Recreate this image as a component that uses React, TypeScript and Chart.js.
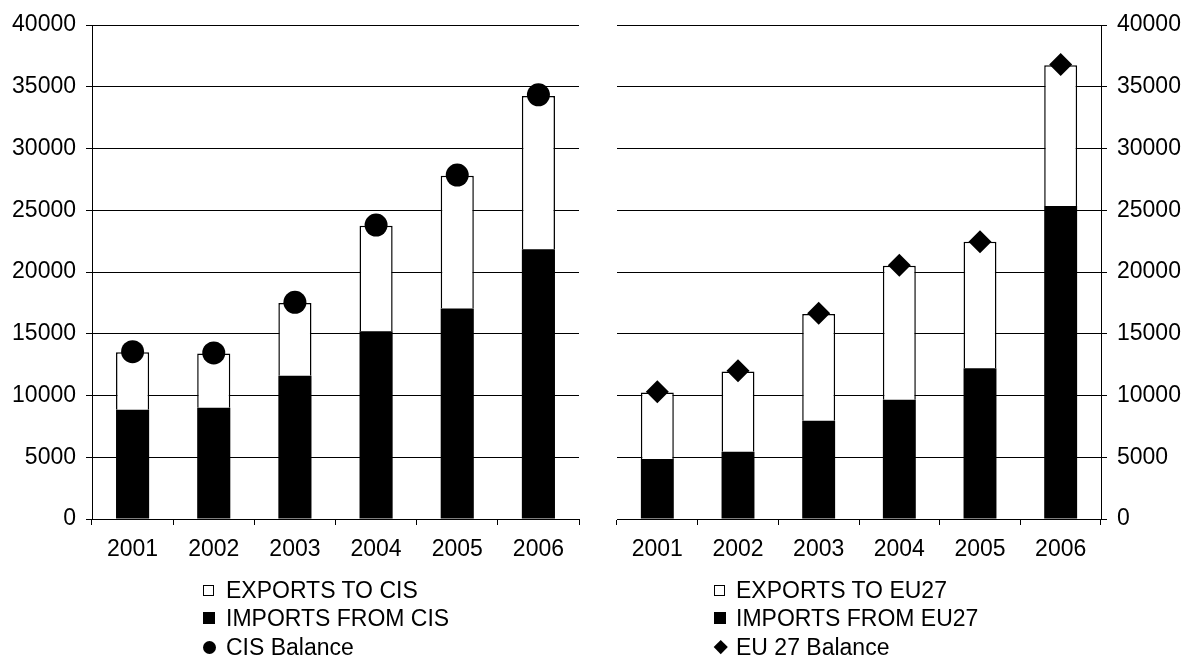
import React, { useEffect, useRef } from "react";
import { Chart, registerables } from "chart.js";

Chart.register(...registerables);

// ---- Data ----
const YEARS = ["2001", "2002", "2003", "2004", "2005", "2006"];

const CIS_IMPORTS = [8850, 9000, 11600, 15200, 17050, 21850];
const CIS_EXPORTS = [4650, 4400, 5900, 8550, 10750, 12400];
const CIS_BALANCE = [13550, 13450, 17550, 23800, 27850, 34350];

const EU_IMPORTS = [4850, 5450, 7950, 9650, 12200, 25350];
const EU_EXPORTS = [5400, 6500, 8650, 10850, 10250, 11400];
const EU_BALANCE = [10300, 12000, 16650, 20550, 22450, 36800];

const Y_MIN = 0;
const Y_MAX = 40000;
const Y_STEP = 5000;

const CIS_LABELS = ["EXPORTS TO CIS", "IMPORTS FROM CIS", "CIS Balance"];
const EU_LABELS = ["EXPORTS TO EU27", "IMPORTS FROM EU27", "EU 27 Balance"];

const FONT_FAMILY = "'Liberation Sans', Arial, Helvetica, sans-serif";
const CANVAS_W = 592;
const CANVAS_H = 661;

type Side = "left" | "right";

interface PanelProps {
  side: Side;
  imports: number[];
  exports: number[];
  balance: number[];
  labels: string[];
  marker: "circle" | "rectRot";
}

function Panel({ side, imports, exports, balance, labels, marker }: PanelProps) {
  const ref = useRef<HTMLCanvasElement | null>(null);

  useEffect(() => {
    if (!ref.current) return;
    const font = { size: 23, family: FONT_FAMILY };
    const chart = new Chart(ref.current, {
      type: "bar",
      data: {
        labels: YEARS,
        datasets: [
          {
            type: "bar",
            label: labels[1],
            data: imports,
            backgroundColor: "#000000",
            borderWidth: 0,
            barPercentage: 0.51,
            categoryPercentage: 0.8,
            stack: "trade",
            order: 2,
          },
          {
            type: "bar",
            label: labels[0],
            data: exports,
            backgroundColor: "#ffffff",
            borderColor: "#000000",
            borderWidth: 1.5,
            borderSkipped: "bottom",
            barPercentage: 0.51,
            categoryPercentage: 0.8,
            stack: "trade",
            order: 2,
          },
          {
            type: "line",
            label: labels[2],
            data: balance,
            showLine: false,
            pointStyle: marker,
            pointRadius: marker === "circle" ? 11.5 : 11.5,
            pointBackgroundColor: "#000000",
            pointBorderColor: "#000000",
            pointBorderWidth: 0,
            stack: "balance",
            order: 0,
          } as any,
        ],
      },
      options: {
        animation: false,
        responsive: false,
        devicePixelRatio: 1,
        layout: {
          padding:
            side === "left"
              ? { left: 0, right: 13, top: 25, bottom: 0 }
              : { left: 25, right: 0, top: 25, bottom: 0 },
        },
        plugins: {
          legend: { display: false },
          tooltip: { enabled: false },
        },
        scales: {
          x: {
            stacked: true,
            offset: true,
            grid: {
              display: true,
              drawOnChartArea: false,
              drawTicks: true,
              tickLength: 6,
              color: "#000000",
              offset: true,
            },
            border: { display: true, color: "#000000", width: 1 },
            ticks: {
              color: "#000000",
              font,
              padding: 11,
              maxRotation: 0,
              autoSkip: false,
            },
            afterFit: (s: any) => {
              s.height = CANVAS_H - 519;
            },
          },
          y: {
            stacked: true,
            position: side,
            min: Y_MIN,
            max: Y_MAX,
            ticks: {
              stepSize: Y_STEP,
              color: "#000000",
              font,
              padding: 10,
              callback: (v: any) => String(v),
            },
            grid: {
              color: "#000000",
              lineWidth: 1,
              drawTicks: true,
              tickLength: 6,
            },
            border: { display: true, color: "#000000", width: 1 },
            afterFit: (s: any) => {
              s.width = side === "left" ? 92 : 83;
            },
          },
        },
      } as any,
    });
    return () => chart.destroy();
  }, [side, imports, exports, balance, labels, marker]);

  return (
    <canvas
      ref={ref}
      width={CANVAS_W}
      height={CANVAS_H}
      style={{ width: CANVAS_W, height: CANVAS_H, display: "block" }}
    />
  );
}

function Marker({ kind }: { kind: "open" | "filled" | "circle" | "diamond" }) {
  const base: React.CSSProperties = { display: "inline-block", boxSizing: "border-box" };
  if (kind === "open")
    return <span style={{ ...base, width: 11, height: 11, border: "1px solid #000", background: "#fff" }} />;
  if (kind === "filled")
    return <span style={{ ...base, width: 12, height: 12, background: "#000" }} />;
  if (kind === "circle")
    return <span style={{ ...base, width: 13, height: 13, borderRadius: "50%", background: "#000" }} />;
  return (
    <span
      style={{
        ...base,
        width: 9.5,
        height: 9.5,
        background: "#000",
        transform: "rotate(45deg)",
        marginLeft: 1.5,
      }}
    />
  );
}

function Legend({
  left,
  textLeft,
  labels,
  balanceKind,
}: {
  left: number;
  textLeft: number;
  labels: string[];
  balanceKind: "circle" | "diamond";
}) {
  const rows: { label: string; kind: "open" | "filled" | "circle" | "diamond"; cy: number }[] = [
    { label: labels[0], kind: "open", cy: 590 },
    { label: labels[1], kind: "filled", cy: 618 },
    { label: labels[2], kind: balanceKind, cy: 647 },
  ];
  return (
    <>
      {rows.map((r) => (
        <div
          key={r.label}
          style={{
            position: "absolute",
            left,
            top: r.cy - 14,
            height: 28,
            display: "flex",
            alignItems: "center",
            fontFamily: FONT_FAMILY,
            fontSize: 23,
            color: "#000",
            whiteSpace: "nowrap",
          }}
        >
          <span style={{ width: textLeft - left, display: "inline-flex", alignItems: "center" }}>
            <Marker kind={r.kind} />
          </span>
          <span style={{ lineHeight: "28px" }}>{r.label}</span>
        </div>
      ))}
    </>
  );
}

export default function App() {
  return (
    <div
      style={{
        position: "fixed",
        left: 0,
        top: 0,
        width: 1184,
        height: 661,
        background: "#ffffff",
        overflow: "hidden",
      }}
    >
      <div style={{ position: "absolute", left: 0, top: 0 }}>
        <Panel
          side="left"
          imports={CIS_IMPORTS}
          exports={CIS_EXPORTS}
          balance={CIS_BALANCE}
          labels={CIS_LABELS}
          marker="circle"
        />
      </div>
      <div style={{ position: "absolute", left: 592, top: 0 }}>
        <Panel
          side="right"
          imports={EU_IMPORTS}
          exports={EU_EXPORTS}
          balance={EU_BALANCE}
          labels={EU_LABELS}
          marker="rectRot"
        />
      </div>
      <Legend left={203} textLeft={226} labels={CIS_LABELS} balanceKind="circle" />
      <Legend left={714} textLeft={736} labels={EU_LABELS} balanceKind="diamond" />
    </div>
  );
}
